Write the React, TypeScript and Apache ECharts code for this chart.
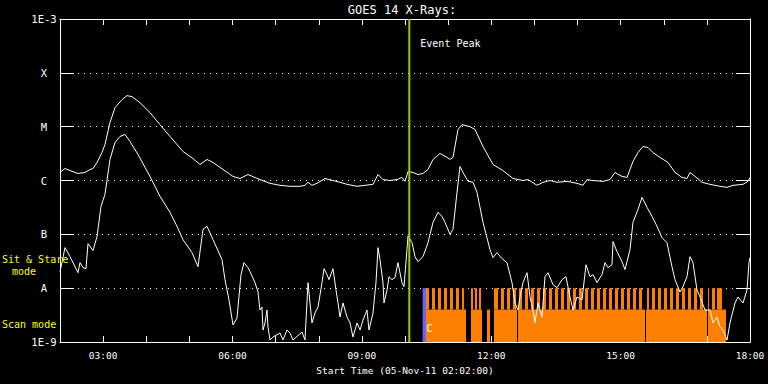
import React, { useEffect, useRef } from 'react';
import * as echarts from 'echarts';

// ---- axis ticks ----
const hourTicks = [3, 6, 9, 12, 15, 18];
const hourLabels = ['03:00', '06:00', '09:00', '12:00', '15:00', '18:00'];
const fluxExponents = [-9, -8, -7, -6, -5, -4, -3];
const fluxLabels = ['1E-9', 'A', 'B', 'C', 'M', 'X', '1E-3'];

// ---- GOES 14 long channel (1-8 A), [hour UT, W/m^2] ----
const longChannel: [number, number][] = [
  [2.000, 1.41e-6], [2.116, 1.67e-6], [2.232, 1.53e-6], [2.417, 1.35e-6], [2.580, 1.41e-6], [2.696, 1.60e-6],
  [2.765, 1.67e-6], [2.858, 2.16e-6], [2.974, 3.31e-6], [3.043, 4.67e-6], [3.159, 1.19e-5], [3.275, 2.26e-5],
  [3.438, 3.18e-5], [3.554, 3.77e-5], [3.670, 3.61e-5], [3.855, 2.79e-5], [4.087, 1.82e-5], [4.319, 1.09e-5],
  [4.551, 6.57e-6], [4.852, 3.46e-6], [5.084, 2.56e-6], [5.246, 1.98e-6], [5.409, 2.46e-6], [5.548, 2.16e-6],
  [5.780, 1.60e-6], [6.012, 1.19e-6], [6.174, 1.09e-6], [6.359, 1.29e-6], [6.638, 1.04e-6], [6.870, 8.86e-7],
  [7.101, 8.14e-7], [7.333, 7.80e-7], [7.565, 7.80e-7], [7.681, 8.14e-7], [7.751, 9.25e-7], [7.843, 8.14e-7],
  [7.959, 8.86e-7], [8.145, 1.09e-6], [8.330, 1.00e-6], [8.493, 9.25e-7], [8.655, 8.49e-7], [8.887, 7.80e-7],
  [9.072, 8.14e-7], [9.258, 8.49e-7], [9.374, 1.29e-6], [9.490, 1.04e-6], [9.652, 1.00e-6], [9.814, 1.04e-6],
  [9.930, 1.14e-6], [10.000, 9.65e-7], [10.070, 1.47e-6], [10.186, 1.41e-6], [10.301, 1.29e-6], [10.417, 1.35e-6],
  [10.533, 1.60e-6], [10.649, 2.46e-6], [10.812, 3.18e-6], [10.974, 2.68e-6], [11.043, 2.46e-6], [11.113, 2.68e-6],
  [11.229, 8.86e-6], [11.322, 1.09e-5], [11.507, 1.00e-5], [11.623, 8.86e-6], [11.809, 4.28e-6], [12.041, 1.98e-6],
  [12.272, 1.53e-6], [12.504, 1.09e-6], [12.736, 1.00e-6], [12.852, 1.04e-6], [13.061, 8.14e-7], [13.200, 9.25e-7],
  [13.362, 1.00e-6], [13.525, 9.25e-7], [13.757, 9.65e-7], [13.988, 8.86e-7], [14.128, 8.14e-7], [14.220, 1.04e-6],
  [14.359, 1.00e-6], [14.591, 9.65e-7], [14.754, 1.04e-6], [14.870, 1.41e-6], [15.032, 1.19e-6], [15.148, 1.14e-6],
  [15.287, 2.26e-6], [15.403, 3.31e-6], [15.519, 4.28e-6], [15.635, 4.10e-6], [15.751, 3.31e-6], [15.913, 2.68e-6],
  [16.099, 2.16e-6], [16.261, 1.41e-6], [16.423, 1.14e-6], [16.539, 1.09e-6], [16.609, 1.41e-6], [16.725, 1.19e-6],
  [16.887, 9.25e-7], [17.072, 8.49e-7], [17.304, 7.80e-7], [17.467, 7.47e-7], [17.606, 8.14e-7], [17.838, 8.49e-7],
  [17.954, 9.65e-7], [18.000, 1.14e-6],
];

// ---- GOES 14 short channel (0.5-4 A), [hour UT, W/m^2] ----
const shortChannel: [number, number][] = [
  [2.000, 2.03e-8], [2.116, 5.66e-8], [2.232, 3.85e-8], [2.417, 1.94e-8], [2.464, 2.98e-8], [2.533, 2.40e-8],
  [2.603, 2.30e-8], [2.649, 6.71e-8], [2.765, 4.97e-8], [2.858, 9.06e-8], [2.951, 3.31e-7], [3.043, 5.54e-7],
  [3.159, 2.46e-6], [3.275, 5.08e-6], [3.391, 6.57e-6], [3.507, 7.16e-6], [3.623, 5.30e-6], [3.809, 3.04e-6],
  [4.087, 1.19e-6], [4.319, 5.08e-7], [4.551, 2.56e-7], [4.713, 1.41e-7], [4.852, 7.97e-8], [5.061, 4.57e-8],
  [5.200, 2.51e-8], [5.316, 1.24e-7], [5.409, 1.41e-7], [5.548, 7.97e-8], [5.757, 3.39e-8], [5.826, 1.44e-8],
  [5.919, 6.03e-9], [6.012, 2.07e-9], [6.104, 2.79e-9], [6.197, 1.78e-8], [6.267, 2.98e-8], [6.359, 2.40e-8],
  [6.406, 2.03e-8], [6.522, 1.27e-8], [6.591, 8.49e-9], [6.638, 3.93e-9], [6.684, 4.47e-9], [6.707, 1.67e-9],
  [6.754, 2.26e-9], [6.800, 3.93e-9], [6.823, 1.90e-9], [6.870, 1.09e-9], [6.939, 1.24e-9], [7.101, 1.47e-9],
  [7.171, 1.09e-9], [7.264, 1.67e-9], [7.333, 1.47e-9], [7.403, 1.09e-9], [7.612, 1.53e-9], [7.681, 1.09e-9],
  [7.751, 1.27e-8], [7.797, 5.30e-9], [7.843, 2.26e-9], [7.913, 3.46e-9], [7.983, 4.47e-9], [8.075, 1.27e-8],
  [8.122, 2.30e-8], [8.191, 1.78e-8], [8.238, 1.44e-8], [8.330, 2.30e-8], [8.400, 9.25e-9], [8.447, 5.30e-9],
  [8.493, 2.91e-9], [8.562, 5.30e-9], [8.655, 2.91e-9], [8.725, 2.26e-9], [8.794, 1.24e-9], [8.887, 2.26e-9],
  [8.957, 1.67e-9], [9.026, 2.56e-9], [9.119, 3.93e-9], [9.165, 1.67e-9], [9.258, 3.46e-9], [9.327, 1.27e-8],
  [9.374, 5.66e-8], [9.420, 3.39e-8], [9.490, 1.27e-8], [9.513, 5.30e-9], [9.583, 9.25e-9], [9.629, 1.63e-8],
  [9.698, 1.44e-8], [9.768, 1.57e-8], [9.837, 2.98e-8], [9.930, 1.27e-8], [9.977, 1.07e-8], [10.046, 5.19e-8],
  [10.070, 9.45e-8], [10.162, 7.00e-8], [10.232, 3.85e-8], [10.301, 3.11e-8], [10.417, 3.85e-8], [10.533, 7.00e-8],
  [10.649, 1.67e-7], [10.765, 2.56e-7], [10.858, 2.16e-7], [10.927, 1.67e-7], [11.043, 1.00e-7], [11.113, 1.24e-7],
  [11.206, 6.03e-7], [11.275, 1.82e-6], [11.345, 1.41e-6], [11.461, 9.65e-7], [11.577, 9.25e-7], [11.669, 6.03e-7],
  [11.809, 1.67e-7], [11.971, 5.19e-8], [12.041, 3.69e-8], [12.133, 4.57e-8], [12.249, 3.53e-8], [12.365, 2.98e-8],
  [12.481, 1.27e-8], [12.551, 5.30e-9], [12.620, 3.93e-9], [12.667, 6.86e-9], [12.736, 1.27e-8], [12.829, 1.94e-8],
  [12.899, 6.86e-9], [12.968, 3.93e-9], [13.014, 2.26e-9], [13.084, 5.30e-9], [13.177, 2.91e-9], [13.246, 1.63e-8],
  [13.316, 1.94e-8], [13.432, 1.16e-8], [13.525, 1.02e-8], [13.641, 1.44e-8], [13.733, 1.63e-8], [13.826, 6.86e-9],
  [13.896, 3.93e-9], [13.988, 6.86e-9], [14.104, 6.03e-9], [14.197, 2.73e-8], [14.290, 1.63e-8], [14.359, 1.78e-8],
  [14.452, 1.27e-8], [14.568, 1.78e-8], [14.638, 2.98e-8], [14.707, 2.40e-8], [14.800, 2.73e-8], [14.823, 7.32e-8],
  [14.916, 4.77e-8], [15.032, 3.11e-8], [15.101, 2.21e-8], [15.217, 5.19e-8], [15.287, 1.67e-7], [15.403, 2.91e-7],
  [15.496, 4.87e-7], [15.612, 3.18e-7], [15.728, 2.16e-7], [15.844, 1.41e-7], [15.959, 8.68e-8], [16.075, 7.00e-8],
  [16.191, 2.51e-8], [16.261, 1.44e-8], [16.377, 8.49e-9], [16.446, 1.07e-8], [16.539, 1.63e-8], [16.609, 3.85e-8],
  [16.678, 2.98e-8], [16.771, 9.25e-9], [16.841, 6.86e-9], [16.957, 3.93e-9], [17.072, 3.93e-9], [17.142, 2.26e-9],
  [17.235, 2.91e-9], [17.304, 1.90e-9], [17.374, 1.67e-9], [17.467, 1.09e-9], [17.536, 2.26e-9], [17.652, 5.30e-9],
  [17.722, 6.86e-9], [17.838, 5.30e-9], [17.930, 9.25e-9], [17.977, 2.98e-8], [18.000, 3.69e-8],
];

// ---- event and observing-mode timeline (hours UT) ----
const eventPeakHour = 10.1;
const blueSegment: [number, number] = [10.41, 10.487];
const stareExtent: [number, number] = [10.487, 17.35];
const stareGaps: [number, number][] = [
  [10.556, 10.626], [10.696, 10.765], [10.835, 10.904], [10.974, 11.043], [11.113, 11.182], [11.252, 11.322],
  [11.368, 11.530], [11.577, 11.623], [11.669, 11.716], [11.762, 12.064], [12.156, 12.226], [12.296, 12.365],
  [12.435, 12.504], [12.574, 12.643], [12.713, 12.782], [12.852, 12.921], [12.991, 13.061], [13.130, 13.200],
  [13.270, 13.339], [13.409, 13.478], [13.548, 13.617], [13.687, 13.756], [13.826, 13.895], [13.965, 14.035],
  [14.104, 14.174], [14.243, 14.313], [14.382, 14.452], [14.522, 14.591], [14.661, 14.730], [14.800, 14.869],
  [14.939, 15.009], [15.078, 15.148], [15.217, 15.287], [15.357, 15.426], [15.496, 15.612], [15.658, 15.728],
  [15.797, 15.867], [15.936, 16.006], [16.075, 16.145], [16.215, 16.284], [16.354, 16.423], [16.493, 16.562],
  [16.632, 16.701], [16.771, 16.841], [16.910, 17.026], [17.049, 17.119], [17.188, 17.235],
];
const scanSegments: [number, number][] = [
  [10.487, 11.415], [11.530, 11.786], [11.901, 11.971], [12.064, 12.597], [12.620, 15.565], [15.588, 17.003], [17.026, 17.443],
];
const bandFloor = 1e-9;
const scanTop = 4e-9;
const stareTop = 1e-8;
const scanMarkerHour = 10.49;
const scanMarkerFlux = 1.8e-9;

const FONT = '"DejaVu Sans Mono", monospace';
const ORANGE = '#ff8000';

function buildStareSegments(): [number, number][] {
  const out: [number, number][] = [];
  let cur = stareExtent[0];
  for (const [gs, ge] of stareGaps) {
    if (gs > cur) out.push([cur, gs]);
    cur = Math.max(cur, ge);
  }
  if (cur < stareExtent[1]) out.push([cur, stareExtent[1]]);
  return out;
}

const rectRender = (color: string) => (params: any, api: any) => {
  const p0 = api.coord([api.value(0), api.value(3)]);
  const p1 = api.coord([api.value(1), api.value(2)]);
  return {
    type: 'rect',
    shape: { x: p0[0], y: p0[1], width: Math.max(p1[0] - p0[0], 0.5), height: p1[1] - p0[1] },
    style: { fill: color },
  };
};

export default function App() {
  const ref = useRef<HTMLDivElement>(null);
  useEffect(() => {
    if (!ref.current) return;
    const chart = echarts.init(ref.current, null, { renderer: 'svg' });
    const stareSegs = buildStareSegments();
    const fluxLabel = (v: number) => {
      const e = Math.round(Math.log10(v));
      const i = fluxExponents.indexOf(e);
      return i >= 0 ? fluxLabels[i] : '';
    };
    const hourLabel = (v: number) => {
      const i = hourTicks.indexOf(Math.round(v));
      return i >= 0 && Math.abs(v - hourTicks[i]) < 1e-6 ? hourLabels[i] : '';
    };
    const axisLine = { show: true, lineStyle: { color: '#fff', width: 1 } };
    const option: any = {
      animation: false,
      backgroundColor: '#000',
      grid: { left: 60, right: 18, top: 19, bottom: 42, containLabel: false, outerBoundsMode: 'none' },
      xAxis: [
        {
          type: 'value', min: 2, max: 18, interval: 1, position: 'bottom',
          axisLine, axisTick: { show: true, inside: true, length: 6, lineStyle: { color: '#fff' } },
          axisLabel: { color: '#fff', fontFamily: FONT, fontSize: 9.5, margin: 8, formatter: hourLabel, showMinLabel: true, showMaxLabel: true },
          splitLine: { show: false },
          name: 'Start Time (05-Nov-11 02:02:00)', nameLocation: 'middle', nameGap: 23,
          nameTextStyle: { color: '#fff', fontFamily: FONT, fontSize: 9.5 },
        },
        {
          type: 'value', min: 2, max: 18, interval: 1, position: 'top',
          axisLine, axisTick: { show: true, inside: true, length: 6, lineStyle: { color: '#fff' } },
          axisLabel: { show: false }, splitLine: { show: false },
        },
      ],
      yAxis: [
        {
          type: 'log', logBase: 10, min: 1e-9, max: 1e-3, interval: 1, position: 'left',
          axisLine, axisTick: { show: true, inside: true, length: 14, lineStyle: { color: '#fff' } },
          axisLabel: { color: '#fff', fontFamily: FONT, fontSize: 10.5, align: 'center', margin: 16, formatter: fluxLabel, showMinLabel: true, showMaxLabel: true },
          splitLine: { show: true, lineStyle: { color: '#fff', width: 1, type: [1, 5] } },
        },
        {
          type: 'log', logBase: 10, min: 1e-9, max: 1e-3, interval: 1, position: 'right',
          axisLine, axisTick: { show: true, inside: true, length: 14, lineStyle: { color: '#fff' } },
          axisLabel: { show: false }, splitLine: { show: false },
        },
      ],
      series: [
        {
          type: 'custom', name: 'scan', clip: true, renderItem: rectRender(ORANGE),
          encode: { x: [0, 1], y: [2, 3] },
          data: scanSegments.map(([a, b]) => [a, b, bandFloor, scanTop]),
        },
        {
          type: 'custom', name: 'stare', clip: true, renderItem: rectRender(ORANGE),
          encode: { x: [0, 1], y: [2, 3] },
          data: stareSegs.map(([a, b]) => [a, b, scanTop, stareTop]),
        },
        {
          type: 'custom', name: 'blue', clip: true, renderItem: rectRender('#6464ff'),
          encode: { x: [0, 1], y: [2, 3] },
          data: [[blueSegment[0], blueSegment[1], bandFloor, stareTop]],
        },
        {
          type: 'custom', name: 'marker', clip: true,
          encode: { x: 0, y: 1 },
          data: [[scanMarkerHour, scanMarkerFlux]],
          renderItem: (params: any, api: any) => {
            const p = api.coord([api.value(0), api.value(1)]);
            return {
              type: 'text', x: p[0], y: p[1],
              style: { text: 'C', fill: '#fff', fontSize: 11, fontFamily: FONT, align: 'left', verticalAlign: 'middle' },
            };
          },
        },
        {
          type: 'line', name: 'long', data: longChannel, showSymbol: false, symbol: 'none',
          lineStyle: { color: '#fff', width: 1 }, z: 5,
        },
        {
          type: 'line', name: 'short', data: shortChannel, showSymbol: false, symbol: 'none',
          lineStyle: { color: '#fff', width: 1 }, z: 5,
        },
        {
          type: 'custom', name: 'event', clip: false, z: 6,
          encode: { x: 0, y: [1, 2] },
          data: [[eventPeakHour, 1e-9, 1e-3]],
          renderItem: (params: any, api: any) => {
            const top = api.coord([api.value(0), api.value(2)]);
            const bot = api.coord([api.value(0), api.value(1)]);
            return {
              type: 'group',
              children: [
                { type: 'line', shape: { x1: top[0], y1: top[1], x2: bot[0], y2: bot[1] }, style: { stroke: '#99cc00', lineWidth: 2 } },
                { type: 'text', x: top[0] + 11, y: top[1] + 24, style: { text: 'Event Peak', fill: '#fff', fontSize: 10, fontFamily: FONT, align: 'left', verticalAlign: 'middle' } },
              ],
            };
          },
        },
      ],
      graphic: [
        { type: 'text', x: 402, y: 10, style: { text: 'GOES 14 X-Rays:', fill: '#fff', font: '12px ' + FONT, textAlign: 'center', textVerticalAlign: 'middle', align: 'center', verticalAlign: 'middle' } },
        { type: 'text', x: 2, y: 259, z: 10, style: { text: 'Sit & Stare', fill: '#ffff00', font: '10px ' + FONT, textAlign: 'left', textVerticalAlign: 'middle', align: 'left', verticalAlign: 'middle' } },
        { type: 'text', x: 24, y: 271, z: 10, style: { text: 'mode', fill: '#ffff00', font: '10px ' + FONT, textAlign: 'center', textVerticalAlign: 'middle', align: 'center', verticalAlign: 'middle' } },
        { type: 'text', x: 2, y: 324, z: 10, style: { text: 'Scan mode', fill: '#ffff00', font: '10px ' + FONT, textAlign: 'left', textVerticalAlign: 'middle', align: 'left', verticalAlign: 'middle' } },
      ],
    };
    chart.setOption(option);
    return () => chart.dispose();
  }, []);
  return (
    <div
      ref={ref}
      style={{ position: 'fixed', left: 0, top: 0, width: 768, height: 384, background: '#000' }}
    />
  );
}
